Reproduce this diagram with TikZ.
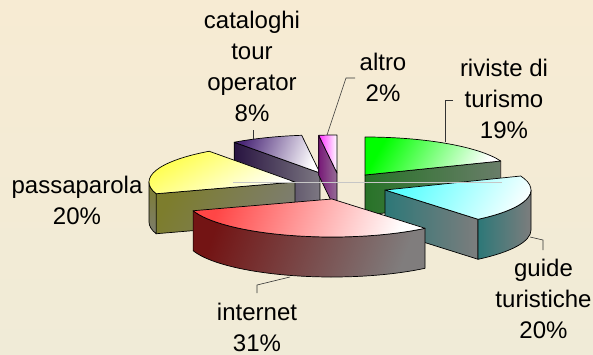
\documentclass[tikz,border=0pt]{standalone}
\usepackage{fontspec}
\setmainfont{Liberation Sans}
\usetikzlibrary{calc}

% background
\definecolor{bgtop}{RGB}{247,235,211}
\definecolor{bgbot}{RGB}{240,235,215}
% slice colours: top faces (saturated corner) and side faces (dark end, grey end)
\definecolor{grTop}{RGB}{0,255,0}
\definecolor{grSideL}{RGB}{40,115,40}
\definecolor{grSideR}{RGB}{105,125,105}
\definecolor{cyTop}{RGB}{90,255,255}
\definecolor{cySideL}{RGB}{45,120,120}
\definecolor{cySideR}{RGB}{125,125,125}
\definecolor{rdTop}{RGB}{255,70,70}
\definecolor{rdSideL}{RGB}{115,20,20}
\definecolor{rdSideR}{RGB}{128,125,125}
\definecolor{ylTop}{RGB}{255,255,60}
\definecolor{ylSideL}{RGB}{125,125,45}
\definecolor{ylSideR}{RGB}{125,125,110}
\definecolor{puTop}{RGB}{75,40,120}
\definecolor{puSideL}{RGB}{40,20,65}
\definecolor{puSideR}{RGB}{125,120,130}
\definecolor{mgTop}{RGB}{255,50,255}
\definecolor{mgSideL}{RGB}{120,25,120}
\definecolor{mgSideR}{RGB}{150,110,150}

\begin{document}
\begin{tikzpicture}[x=1pt,y=1pt,line join=round,
  rim/.style={draw=black,line width=0.7pt},
  lbl/.style={font=\fontsize{24}{31}\selectfont,align=center,anchor=base,inner sep=0pt},
  leader/.style={draw=black!80,line width=0.6pt},
  floorline/.style={draw=gray!45,line width=0.6pt},
  ell/.style={x radius=146pt,y radius=38pt}]
\def\hh{40}
\useasboundingbox (0,0) rectangle (593,354);
\shade[top color=bgtop,bottom color=bgbot] (0,0) rectangle (593,354);

% ---- cataloghi tour operator (324 -- 352.8 deg)
\coordinate (P) at (320,181);
\coordinate (Pa) at ($(P)+(-234:146pt and 38pt)$);
\shadedraw[rim,left color=puSideL,right color=puSideR]
  (P) -- (Pa) -- ++(0,-\hh) -- ($(P)+(0,-\hh)$) -- cycle;
\shadedraw[rim,top color=puTop,bottom color=white,shading angle=70]
  (P) -- (Pa) arc[ell,start angle=-234,end angle=-262.8] -- cycle;

% ---- altro (352.8 -- 360 deg)
\coordinate (M) at (337,181);
\coordinate (Ma) at ($(M)+(-262.8:146pt and 38pt)$);
\shadedraw[rim,left color=mgSideL,right color=mgSideR]
  (M) -- (Ma) -- ++(0,-\hh) -- ($(M)+(0,-\hh)$) -- cycle;
\shadedraw[rim,left color=mgTop,right color=white]
  (M) -- (Ma) arc[ell,start angle=-262.8,end angle=-270] -- cycle;

% ---- riviste di turismo (0 -- 68.4 deg)
\coordinate (G) at (365,179);
\coordinate (Ga) at ($(G)+(90:146pt and 38pt)$);
\coordinate (Gb) at ($(G)+(21.6:146pt and 38pt)$);
\shadedraw[rim,left color=grSideL,right color=grSideR]
  (G) -- (Gb) -- ++(0,-\hh) -- ($(G)+(0,-\hh)$) -- cycle;
\shadedraw[rim,top color=grTop,bottom color=white,shading angle=60]
  (G) -- (Ga) arc[ell,start angle=90,end angle=21.6] -- cycle;

% ---- passaparola (252 -- 324 deg)
\coordinate (Y) at (295,172);
\coordinate (Ya) at ($(Y)+(-162:146pt and 38pt)$);
\shadedraw[rim,top color=ylSideL,bottom color=ylSideR,shading angle=60]
  (Y) -- (Ya) -- ++(0,-\hh) -- ($(Y)+(0,-\hh)$) -- cycle;
\shadedraw[rim,top color=ylSideL,bottom color=ylSideR]
  (Ya) arc[ell,start angle=-162,end angle=-180]
  -- ++(0,-\hh) arc[ell,start angle=-180,end angle=-162] -- cycle;
\shadedraw[rim,top color=ylTop,bottom color=white,shading angle=30]
  (Y) -- (Ya) arc[ell,start angle=-162,end angle=-234] -- cycle;

% ---- guide turistiche (68.4 -- 140.4 deg)
\coordinate (C) at (385,164);
\coordinate (Ca) at ($(C)+(21.6:146pt and 38pt)$);
\coordinate (Cb) at ($(C)+(-50.4:146pt and 38pt)$);
\coordinate (Cr) at ($(C)+(0:146pt and 38pt)$);
\shadedraw[rim,left color=cySideL,right color=cySideR]
  (C) -- (Cb) -- ++(0,-\hh) -- ($(C)+(0,-\hh)$) -- cycle;
\shadedraw[rim,left color=cySideL,right color=cySideR]
  (Cr) arc[ell,start angle=0,end angle=-50.4]
  -- ++(0,-\hh) arc[ell,start angle=-50.4,end angle=0] -- cycle;
\shadedraw[rim,top color=cyTop,bottom color=white,shading angle=60]
  (C) -- (Ca) arc[ell,start angle=21.6,end angle=-50.4] -- cycle;

% ---- internet (140.4 -- 252 deg)
\coordinate (R) at (332,155);
\coordinate (Ra) at ($(R)+(-50.4:146pt and 38pt)$);
\shadedraw[rim,top color=rdSideL,bottom color=rdSideR,shading angle=70]
  (Ra) arc[ell,start angle=-50.4,end angle=-162]
  -- ++(0,-\hh) arc[ell,start angle=-162,end angle=-50.4] -- cycle;
\shadedraw[rim,top color=rdTop,bottom color=white,shading angle=70]
  (R) -- (Ra) arc[ell,start angle=-50.4,end angle=-162] -- cycle;

% faint floor line across the plot area
\draw[floorline] (233,172) -- (502,172);

% ---- labels (anchored at the baseline of their last line)
\node[lbl] (cat) at (252,233) {cataloghi\\tour\\operator\\8\%};
\node[lbl] (alt) at (383,252) {altro\\2\%};
\node[lbl] (riv) at (504,216) {riviste di\\turismo\\19\%};
\node[lbl] (pas) at (77,130) {passaparola\\20\%};
\node[lbl] (int) at (257,3) {internet\\31\%};
\node[lbl] (gui) at (543.5,16) {guide\\turistiche\\20\%};

% ---- leader lines
\coordinate (catA) at (253,224); \coordinate (catB) at (253,215);
\draw[leader] (catA) -- (catB);
\coordinate (altA) at (355,276); \coordinate (altK) at (346,276); \coordinate (altB) at (327,219);
\draw[leader] (altA) -- (altK) -- (altB);
\coordinate (rivA) at (453,254); \coordinate (rivK) at (445,254); \coordinate (rivB) at (445,212);
\draw[leader] (rivA) -- (rivK) -- (rivB);
\coordinate (intA) at (257,61); \coordinate (intK) at (257,69); \coordinate (intB) at (290,77);
\draw[leader] (intA) -- (intK) -- (intB);
\coordinate (guiA) at (543,104); \coordinate (guiK) at (543,114); \coordinate (guiB) at (530,117);
\draw[leader] (guiA) -- (guiK) -- (guiB);
\end{tikzpicture}
\end{document}
